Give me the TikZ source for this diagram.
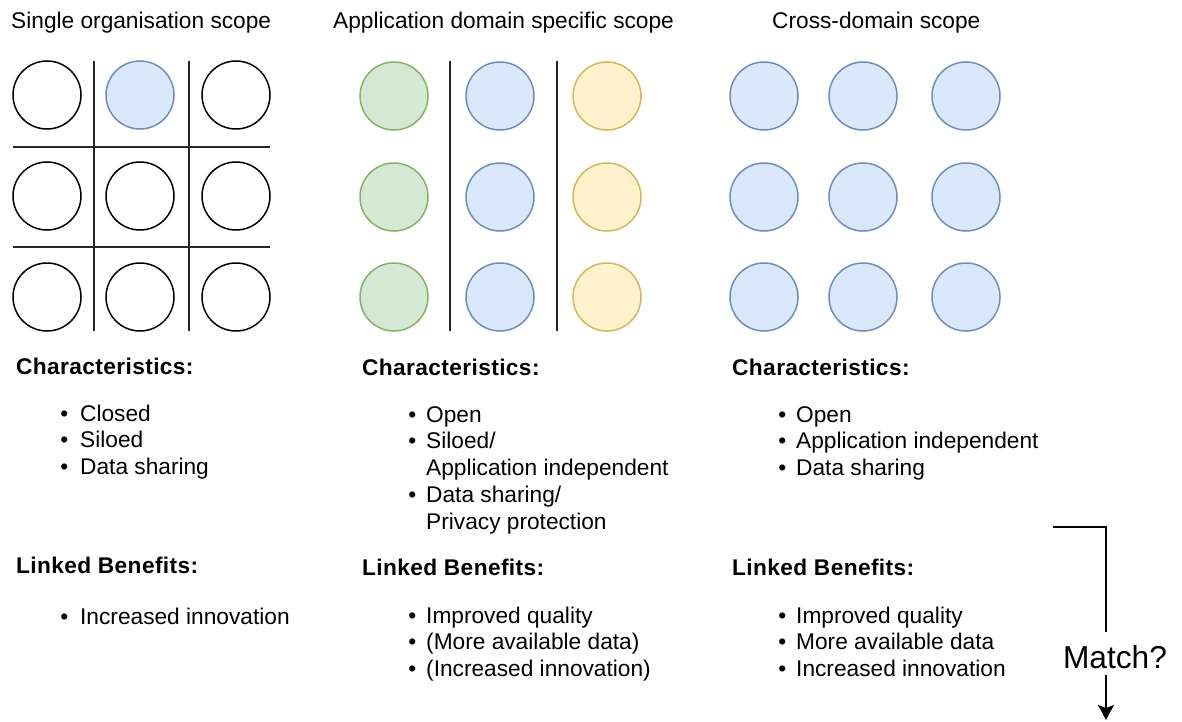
\documentclass[tikz,border=0pt]{standalone}
\usepackage{fontspec}
\setmainfont{Liberation Sans}
\usetikzlibrary{arrows.meta}
\definecolor{bluefill}{HTML}{DAE8FC}
\definecolor{bluedraw}{HTML}{6C8EBF}
\definecolor{greenfill}{HTML}{D5E8D4}
\definecolor{greendraw}{HTML}{82B366}
\definecolor{yellowfill}{HTML}{FFF2CC}
\definecolor{yellowdraw}{HTML}{D6B656}
\newcommand{\itm}[2][10pt]{\llap{\textbullet\hspace{#1}}#2}
\tikzset{
  circ/.style={circle, draw=black, fill=white, line width=1.5pt, minimum size=68pt, inner sep=0pt},
  bcirc/.style={circ, draw=bluedraw, fill=bluefill},
  gcirc/.style={circ, draw=greendraw, fill=greenfill},
  ycirc/.style={circ, draw=yellowdraw, fill=yellowfill},
  sep/.style={draw=black!85, line width=1.4pt},
  ttl/.style={anchor=base west, inner sep=0pt, font=\fontsize{22.7}{26.8}\selectfont},
  head/.style={anchor=base west, inner sep=0pt, font=\fontsize{22.7}{26.8}\selectfont\bfseries\addfontfeature{LetterSpace=1.7}},
  lst/.style={anchor=base west, inner sep=0pt, font=\fontsize{22.7}{26.8}\selectfont},
  matchlbl/.style={inner sep=0pt, font=\fontsize{31.7}{36}\selectfont},
  conn/.style={draw=black, line width=1.3pt},
}
\begin{document}
\begin{tikzpicture}[x=1pt, y=-1pt]
\useasboundingbox (0,0) rectangle (1182,722);
% titles
\node[ttl] (t1) at (11,29) {Single organisation scope};
\node[ttl] (t2) at (333,29) {Application domain specific scope};
\node[ttl] (t3) at (772,29) {Cross-domain scope};
% grid 1
\draw[sep] (94,61) -- (94,331);
\draw[sep] (189,61) -- (189,331);
\draw[sep] (13,147) -- (270,147);
\draw[sep] (13,247) -- (270,247);
\node[circ]  (a11) at (47,95) {};
\node[bcirc] (a12) at (140,95) {};
\node[circ]  (a13) at (236,95) {};
\node[circ]  (a21) at (47,196) {};
\node[circ]  (a22) at (140,196) {};
\node[circ]  (a23) at (236,196) {};
\node[circ]  (a31) at (47,297) {};
\node[circ]  (a32) at (140,297) {};
\node[circ]  (a33) at (236,297) {};
% grid 2
\draw[sep] (450,61) -- (450,331);
\draw[sep] (557,61) -- (557,331);
\node[gcirc] (b11) at (394,96) {};
\node[bcirc] (b12) at (500,96) {};
\node[ycirc] (b13) at (607,96) {};
\node[gcirc] (b21) at (394,197) {};
\node[bcirc] (b22) at (500,197) {};
\node[ycirc] (b23) at (607,197) {};
\node[gcirc] (b31) at (394,297) {};
\node[bcirc] (b32) at (500,297) {};
\node[ycirc] (b33) at (607,297) {};
% grid 3
\node[bcirc] (c11) at (764,96) {};
\node[bcirc] (c12) at (863,96) {};
\node[bcirc] (c13) at (966,96) {};
\node[bcirc] (c21) at (764,197) {};
\node[bcirc] (c22) at (863,197) {};
\node[bcirc] (c23) at (966,197) {};
\node[bcirc] (c31) at (764,297) {};
\node[bcirc] (c32) at (863,297) {};
\node[bcirc] (c33) at (966,297) {};
% column 1 text
\node[head] (h1) at (16,374) {Characteristics:};
\node[lst] (l1) at (80,421) {\begin{tabular}[t]{@{}l@{}}\itm[12pt]{Closed}\\\itm[12pt]{Siloed}\\\itm[12pt]{Data sharing}\end{tabular}};
\node[head] (k1) at (16,573) {Linked Benefits:};
\node[lst] (m1) at (80,624) {\begin{tabular}[t]{@{}l@{}}\itm[12pt]{Increased innovation}\end{tabular}};
% column 2 text
\node[head] (h2) at (362,375) {Characteristics:};
\node[lst] (l2) at (426,422) {\begin{tabular}[t]{@{}l@{}}\itm{Open}\\\itm{Siloed/}\\Application independent\\\itm{Data sharing/}\\Privacy protection\end{tabular}};
\node[head] (k2) at (362,575) {Linked Benefits:};
\node[lst] (m2) at (426,623) {\begin{tabular}[t]{@{}l@{}}\itm{Improved quality}\\\itm{(More available data)}\\\itm{(Increased innovation)}\end{tabular}};
% column 3 text
\node[head] (h3) at (732,375) {Characteristics:};
\node[lst] (l3) at (796,422) {\begin{tabular}[t]{@{}l@{}}\itm{Open}\\\itm{Application independent}\\\itm{Data sharing}\end{tabular}};
\node[head] (k3) at (732,575) {Linked Benefits:};
\node[lst] (m3) at (796,623) {\begin{tabular}[t]{@{}l@{}}\itm{Improved quality}\\\itm{More available data}\\\itm{Increased innovation}\end{tabular}};
% match connector
\coordinate (ms) at (1053,527);
\coordinate (mc) at (1106,527);
\node[matchlbl] (match) at (1115,657) {Match?};
\coordinate (ma) at (1106,632);
\coordinate (mb) at (1106,675);
\coordinate (me) at (1106,720);
\draw[conn] (ms) -- (mc) -- (ma);
\draw[conn, -{Stealth[length=15pt, width=16pt, inset=3pt]}] (mb) -- (me);
\end{tikzpicture}
\end{document}
